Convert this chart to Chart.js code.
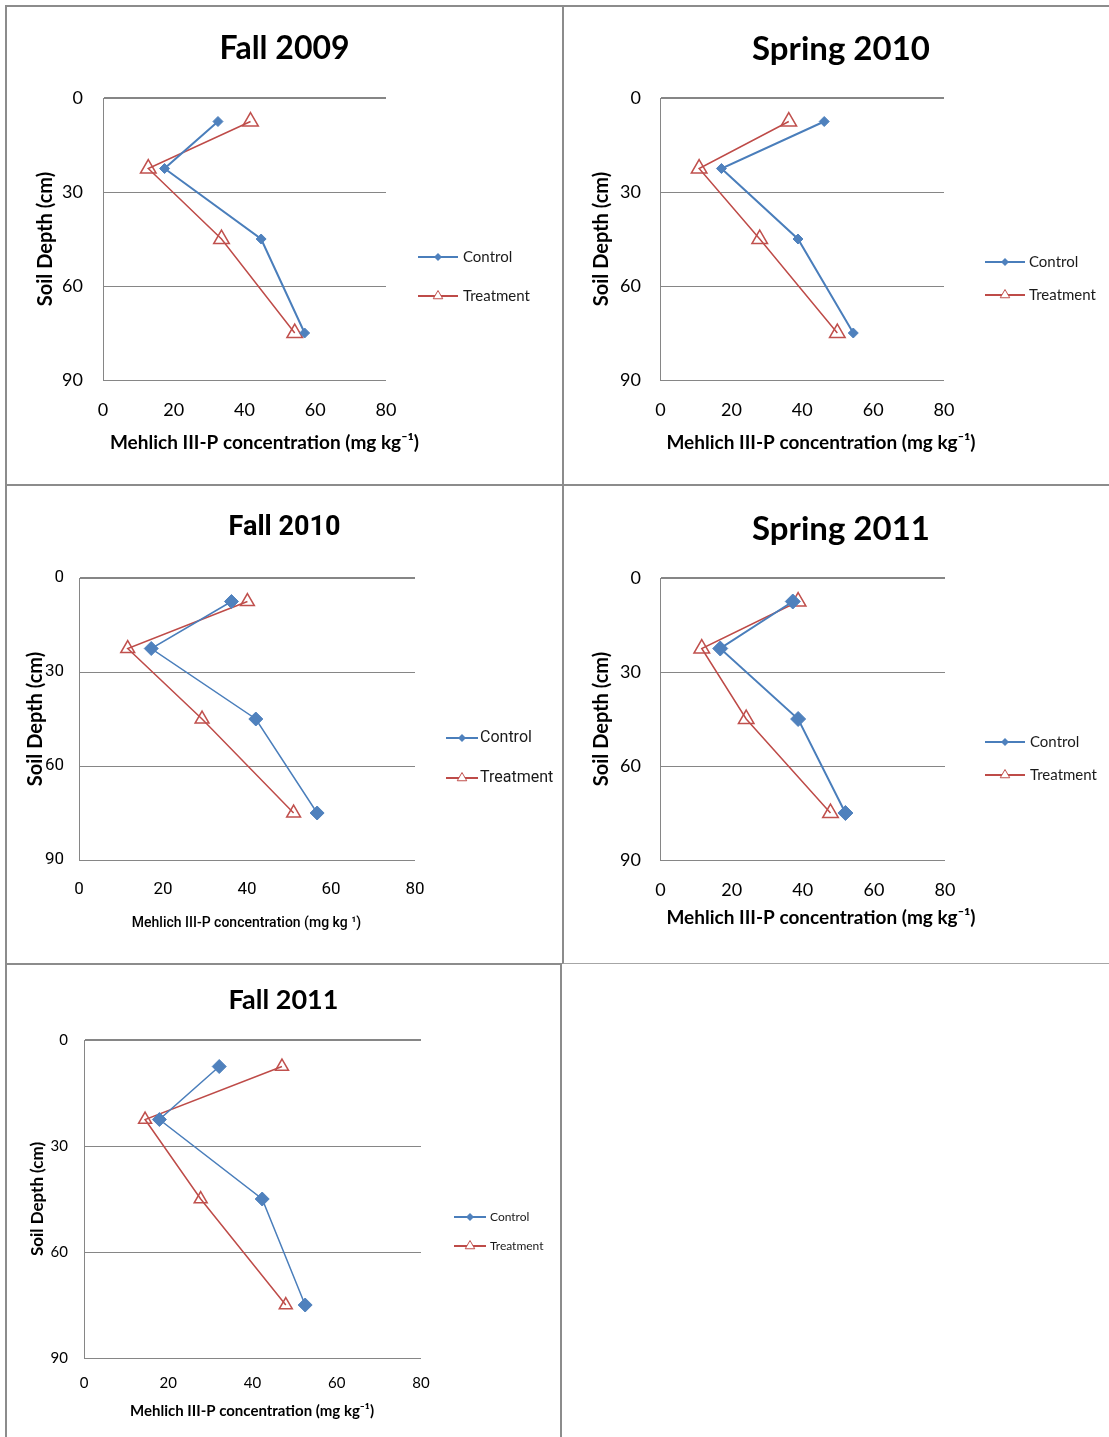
<!DOCTYPE html>
<html lang="en">
  <head>
    <meta charset="UTF-8" />
    <title>Mehlich III-P by soil depth</title>
    <script src="https://cdn.jsdelivr.net/npm/chart.js"></script>
    <style>
      html, body { margin: 0; padding: 0; background: #fff; }
      body { position: relative; width: 1109px; height: 1437px; overflow: hidden; }
      .panel {
        position: absolute;
        box-sizing: border-box;
        border-left: 2px solid #8c8c8c;
        border-top: 2px solid #8c8c8c;
      }
      .panel canvas { display: block; }
    </style>
  </head>
  <body>
    <div class="panel" style="left:5px;top:5px;width:557px;height:479px">
      <canvas id="c1" width="555" height="477"></canvas>
    </div>
    <div class="panel" style="left:562px;top:5px;width:547px;height:479px">
      <canvas id="c2" width="545" height="477"></canvas>
    </div>
    <div class="panel" style="left:5px;top:484px;width:557px;height:479px">
      <canvas id="c3" width="555" height="477"></canvas>
    </div>
    <div class="panel" style="left:562px;top:484px;width:547px;height:480px;border-bottom:1px solid #a6a6a6">
      <canvas id="c4" width="545" height="477"></canvas>
    </div>
    <div class="panel" style="left:5px;top:963px;width:557px;height:474px;border-right:2px solid #8c8c8c">
      <canvas id="c5" width="553" height="472"></canvas>
    </div>

    <script>
      // data
      const depths = [7.5, 22.5, 45, 75];
      const xTicks = [0, 20, 40, 60, 80];
      const yTicks = [0, 30, 60, 90];
      const seriesNames = ["Control", "Treatment"];
      const panelTitles = ["Fall 2009", "Spring 2010", "Fall 2010", "Spring 2011", "Fall 2011"];

      const fall2009Control = [32.5, 17.4, 44.7, 57.0];
      const fall2009Treatment = [41.7, 12.8, 33.5, 54.2];
      const spring2010Control = [46.2, 17.2, 38.8, 54.4];
      const spring2010Treatment = [36.2, 10.9, 28.0, 49.9];
      const fall2010Control = [36.3, 17.2, 42.1, 56.7];
      const fall2010Treatment = [40.1, 11.6, 29.3, 51.1];
      const spring2011Control = [37.2, 16.8, 38.7, 52.0];
      const spring2011Treatment = [38.7, 11.6, 24.1, 47.8];
      const fall2011Control = [32.1, 17.9, 42.3, 52.5];
      const fall2011Treatment = [47.0, 14.5, 27.7, 47.9];

      const xTitleText = "Mehlich III-P concentration (mg kg\u207B\u00B9)";
      const yTitleText = "Soil Depth (cm)";

      const LATO = "Lato";
      const NARROW = "Roboto";

      // layout of each panel, canvas pixels
      const layouts = [
        { canvas: "c1", W: 555, H: 477, padL: 0, fam: LATO, titleFam: LATO, titleSize: 32, titleY: 42,
          plot: { l: 96, r: 379, t: 91, b: 373 }, tickRight: 76, tickSize: 18, yTitleX: 38.5, yTitleSize: 20,
          xTickY: 403,
          caption: { text: xTitleText, x: 257.5, y: 436, size: 19, weight: "bold", fam: LATO },
          legend: { x: 411, len: 40, textX: 456, y: [250, 289], size: 15, fam: LATO },
          ctlR: 5, trtR: 9, lineW: [2, 1.5] },
        { canvas: "c2", W: 545, H: 477, padL: 9, fam: LATO, titleFam: LATO, titleSize: 33, titleY: 42,
          plot: { l: 96.5, r: 380, t: 91, b: 373 }, tickRight: 77, tickSize: 18, yTitleX: 38, yTitleSize: 20,
          xTickY: 403,
          caption: { text: xTitleText, x: 257, y: 436, size: 19, weight: "bold", fam: LATO },
          legend: { x: 421, len: 40, textX: 465, y: [255, 288], size: 15, fam: LATO },
          ctlR: 5, trtR: 9, lineW: [2, 1.5] },
        { canvas: "c3", W: 555, H: 477, padL: 0, fam: NARROW, titleFam: NARROW, titleSize: 27, titleY: 42,
          plot: { l: 72, r: 408, t: 92, b: 374 }, tickRight: 57, tickSize: 17, yTitleX: 29, yTitleSize: 20,
          xTickY: 404,
          caption: { text: "Mehlich III-P concentration (mg kg \u00B9)", x: 239.5, y: 437, size: 14, weight: "500", fam: NARROW },
          legend: { x: 439, len: 32, textX: 473, y: [252, 292], size: 16, fam: NARROW },
          ctlR: 7, trtR: 8, lineW: [1.5, 1.5] },
        { canvas: "c4", W: 545, H: 477, padL: 9, fam: LATO, titleFam: LATO, titleSize: 33, titleY: 43,
          plot: { l: 96.5, r: 381, t: 92, b: 374 }, tickRight: 77, tickSize: 18, yTitleX: 38, yTitleSize: 20,
          xTickY: 404,
          caption: { text: xTitleText, x: 257, y: 432, size: 19, weight: "bold", fam: LATO },
          legend: { x: 421, len: 40, textX: 466, y: [256, 289], size: 15, fam: LATO },
          ctlR: 7.5, trtR: 9, lineW: [2, 1.5] },
        { canvas: "c5", W: 553, H: 472, padL: 0, fam: LATO, titleFam: LATO, titleSize: 27, titleY: 35,
          plot: { l: 77, r: 414, t: 75, b: 393 }, tickRight: 61, tickSize: 15, yTitleX: 30.5, yTitleSize: 17,
          xTickY: 418,
          caption: { text: xTitleText, x: 245, y: 446, size: 15, weight: "bold", fam: LATO },
          legend: { x: 447, len: 32, textX: 483, y: [252, 281], size: 12, fam: LATO },
          ctlR: 7, trtR: 7.5, lineW: [1.5, 1.5] },
      ];

      const BLUE_LINE = "#4A7EBB", BLUE_FILL = "#4F81BD";
      const RED_LINE = "#BE4B48", RED_MARK = "#C0504D";
      const GRID = "#868686";

      // small legend drawn to the right of the plot, like the Excel one
      const sideLegend = {
        id: "sideLegend",
        afterDraw(chart, args, opts) {
          const c = chart.ctx;
          chart.data.datasets.forEach((ds, i) => {
            const y = opts.y[i];
            const x0 = opts.x, x1 = opts.x + opts.len, xm = (x0 + x1) / 2;
            c.save();
            c.strokeStyle = ds.borderColor;
            c.lineWidth = 2;
            c.beginPath();
            c.moveTo(x0, y);
            c.lineTo(x1, y);
            c.stroke();
            c.beginPath();
            if (ds.pointStyle === "rectRot") {
              const r = 4;
              c.moveTo(xm, y - r); c.lineTo(xm + r, y); c.lineTo(xm, y + r); c.lineTo(xm - r, y);
              c.closePath();
              c.fillStyle = ds.pointBackgroundColor;
              c.fill();
            } else {
              const r = 5.5;
              c.moveTo(xm, y - r);
              c.lineTo(xm + r * 0.866, y + r * 0.5);
              c.lineTo(xm - r * 0.866, y + r * 0.5);
              c.closePath();
              c.fillStyle = "#fff";
              c.fill();
              c.lineWidth = 1;
              c.strokeStyle = ds.pointBorderColor;
              c.stroke();
            }
            c.fillStyle = "#1a1a1a";
            c.font = opts.size + "px " + opts.fam;
            c.textAlign = "left";
            c.textBaseline = "middle";
            c.fillText(ds.label, opts.textX, y);
            c.restore();
          });
        },
      };

      // x axis caption: wider than the plot in the original, so drawn without
      // the scale title's maxWidth squeeze
      const axisCaption = {
        id: "axisCaption",
        afterDraw(chart, args, opts) {
          const c = chart.ctx;
          c.save();
          c.fillStyle = "#000";
          c.font = opts.weight + " " + opts.size + "px " + opts.fam;
          c.textAlign = "center";
          c.textBaseline = "middle";
          c.fillText(opts.text, opts.x, opts.y);
          c.restore();
        },
      };

      function drawPanel(title, control, treatment, L) {
        const lh = 1.2;
        const ctx = document.getElementById(L.canvas);
        const tlh = L.titleSize * lh;

        const data = {
          datasets: [
            {
              label: seriesNames[0],
              data: depths.map((d, i) => ({ x: control[i], y: d })),
              showLine: true,
              borderColor: BLUE_LINE,
              backgroundColor: BLUE_FILL,
              borderWidth: L.lineW[0],
              pointStyle: "rectRot",
              pointRadius: L.ctlR,
              pointBackgroundColor: BLUE_FILL,
              pointBorderColor: BLUE_FILL,
              pointBorderWidth: 1,
            },
            {
              label: seriesNames[1],
              data: depths.map((d, i) => ({ x: treatment[i], y: d })),
              showLine: true,
              borderColor: RED_LINE,
              backgroundColor: "#fff",
              borderWidth: L.lineW[1],
              pointStyle: "triangle",
              pointRadius: L.trtR,
              pointBackgroundColor: "rgba(255,255,255,0)",
              pointBorderColor: RED_MARK,
              pointBorderWidth: 1.5,
            },
          ],
        };

        const options = {
          responsive: false,
          animation: false,
          devicePixelRatio: 1,
          layout: { padding: { left: L.padL, right: 0, top: 0, bottom: 0 } },
          plugins: {
            legend: { display: false },
            tooltip: { enabled: false },
            title: {
              display: true,
              text: title,
              color: "#000",
              font: { family: L.titleFam, size: L.titleSize, weight: "bold", lineHeight: lh },
              padding: { top: L.titleY - tlh / 2, bottom: L.plot.t - L.titleY - tlh / 2 },
            },
            sideLegend: L.legend,
            axisCaption: L.caption,
          },
          scales: {
            x: {
              type: "linear",
              position: "bottom",
              min: 0,
              max: 80,
              afterBuildTicks: (s) => { s.ticks = xTicks.map((v) => ({ value: v })); },
              grid: { display: false, drawTicks: false },
              border: { display: false },
              ticks: {
                color: "#000",
                font: { family: L.fam, size: L.tickSize, lineHeight: lh },
                padding: L.xTickY - L.plot.b - (L.tickSize * lh) / 2,
                maxRotation: 0,
              },
              afterFit: (s) => { s.height = L.H - L.plot.b; },
            },
            y: {
              type: "linear",
              position: "left",
              reverse: true,
              min: 0,
              max: 90,
              afterBuildTicks: (s) => { s.ticks = yTicks.map((v) => ({ value: v })); },
              grid: {
                color: GRID,
                lineWidth: (c) => (c.tick && c.tick.value === 0 ? 2 : 1),
                drawTicks: false,
              },
              border: { display: true, color: GRID, width: 1 },
              ticks: {
                color: "#000",
                font: { family: L.fam, size: L.tickSize, lineHeight: lh },
                padding: L.plot.l - L.tickRight,
              },
              title: {
                display: true,
                text: yTitleText,
                color: "#000",
                font: { family: LATO, size: L.yTitleSize, weight: "bold", lineHeight: lh },
                padding: { top: L.yTitleX - L.padL - (L.yTitleSize * lh) / 2, bottom: 0 },
              },
              afterFit: (s) => { s.width = L.plot.l - L.padL; },
            },
            // empty box that keeps room for the legend on the right
            yr: {
              type: "linear",
              position: "right",
              grid: { display: false, drawTicks: false },
              ticks: { display: false },
              border: { display: false },
              afterFit: (s) => { s.width = L.W - L.plot.r; },
            },
          },
        };

        new Chart(ctx, { type: "scatter", data: data, options: options, plugins: [sideLegend, axisCaption] });
      }

      drawPanel(panelTitles[0], fall2009Control, fall2009Treatment, layouts[0]);
      drawPanel(panelTitles[1], spring2010Control, spring2010Treatment, layouts[1]);
      drawPanel(panelTitles[2], fall2010Control, fall2010Treatment, layouts[2]);
      drawPanel(panelTitles[3], spring2011Control, spring2011Treatment, layouts[3]);
      drawPanel(panelTitles[4], fall2011Control, fall2011Treatment, layouts[4]);
    </script>
  </body>
</html>
